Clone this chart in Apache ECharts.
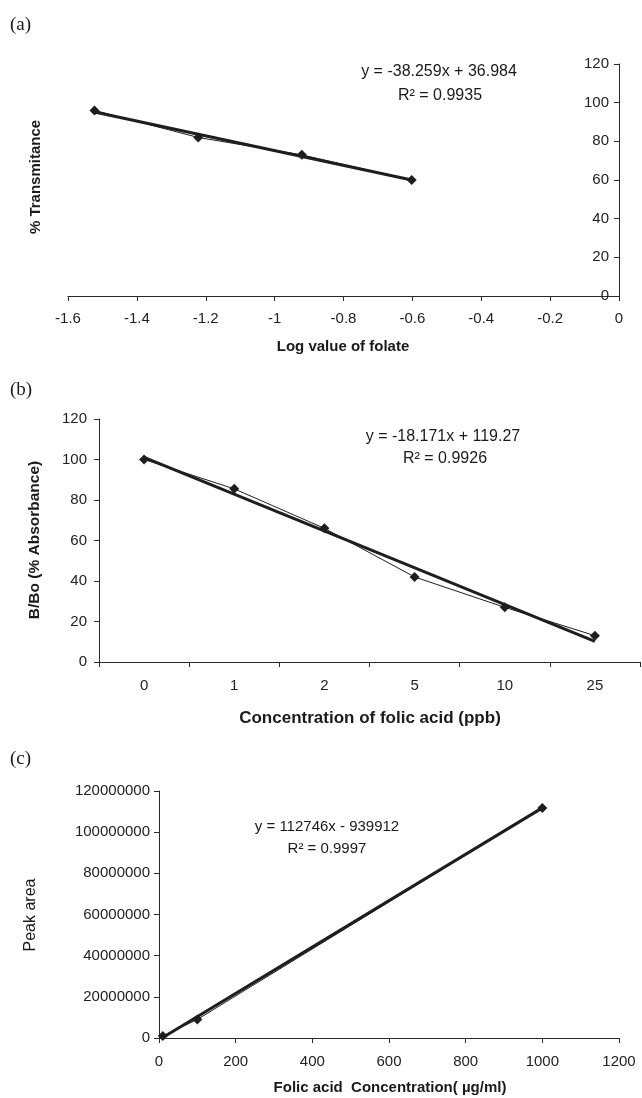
<!DOCTYPE html>
<html>
<head>
<meta charset="utf-8">
<script src="https://cdn.jsdelivr.net/npm/echarts@6/dist/echarts.min.js"></script>
<style>
html,body{margin:0;padding:0;background:#fff;}
#chart{width:642px;height:1098px;}
</style>
</head>
<body>
<div id="chart"></div>
<script>
// ---- Panel (a) ----
const xA = [-1.523, -1.222, -0.921, -0.602];
const yA = [96, 82, 73, 60];
const trendAx = [-1.523, -0.602];
const trendAy = [95.2, 60.0];
// ---- Panel (b) ----
const catB = ['0', '1', '2', '5', '10', '25'];
const yB = [100, 85.5, 66, 42, 27, 13];
const trendB = [101.1, null, null, null, null, 10.2];
// ---- Panel (c) ----
const xC = [10, 100, 1000];
const yC = [1.0e6, 9.0e6, 111.8e6];
const trendCx = [10, 1000];
const trendCy = [0.2e6, 111.8e6];

const FONT = '"Liberation Sans", Arial, sans-serif';
const INK = '#1e1e1e';
const AX = '#2a2a2a';

const pairs = (xs, ys) => xs.map((x, i) => [x, ys[i]]);
const plain = v => String(v);

function axisBase(extra) {
  return Object.assign({
    axisLine: {show: true, lineStyle: {color: AX, width: 1}},
    axisTick: {show: true, length: 5, lineStyle: {color: AX, width: 1}},
    splitLine: {show: false},
    axisLabel: {color: '#222', fontSize: 15, fontFamily: FONT}
  }, extra);
}

const chart = echarts.init(document.getElementById('chart'), null, {renderer: 'canvas'});

function txt(text, x, y, opt) {
  opt = opt || {};
  return {
    type: 'text', x: x, y: y, rotation: opt.rot || 0, z: 10,
    style: {
      text: text, fill: '#1a1a1a',
      fontSize: opt.size || 16, fontWeight: opt.bold ? 'bold' : 'normal',
      fontFamily: opt.family || FONT,
      align: opt.align || 'center', verticalAlign: 'middle'
    }
  };
}

const option = {
  backgroundColor: '#fff',
  animation: false,
  grid: [
    {left: 68, top: 64, width: 551, height: 232},
    {left: 99, top: 419, width: 541, height: 243},
    {left: 159, top: 791, width: 460, height: 247}
  ],
  xAxis: [
    axisBase({type: 'value', gridIndex: 0, min: -1.6, max: 0, interval: 0.2,
      axisLabel: {color: '#222', fontSize: 15, fontFamily: FONT, margin: 15, formatter: plain}}),
    axisBase({type: 'category', gridIndex: 1, data: catB, boundaryGap: true,
      axisTick: {show: true, length: 5, alignWithLabel: false, lineStyle: {color: AX}},
      axisLabel: {color: '#222', fontSize: 15, fontFamily: FONT, margin: 16}}),
    axisBase({type: 'value', gridIndex: 2, min: 0, max: 1200, interval: 200,
      axisLabel: {color: '#222', fontSize: 15, fontFamily: FONT, margin: 16, formatter: plain}})
  ],
  yAxis: [
    axisBase({type: 'value', gridIndex: 0, position: 'right', min: 0, max: 120, interval: 20,
      axisTick: {show: true, inside: true, length: 5, lineStyle: {color: AX}},
      axisLabel: {inside: true, color: '#222', fontSize: 15, fontFamily: FONT, margin: 10, formatter: plain}}),
    axisBase({type: 'value', gridIndex: 1, min: 0, max: 120, interval: 20,
      axisLabel: {color: '#222', fontSize: 15, fontFamily: FONT, margin: 12, formatter: plain}}),
    axisBase({type: 'value', gridIndex: 2, min: 0, max: 120000000, interval: 20000000,
      axisLabel: {color: '#222', fontSize: 15, fontFamily: FONT, margin: 9, formatter: plain}})
  ],
  series: [
    // (a)
    {type: 'line', xAxisIndex: 0, yAxisIndex: 0, data: pairs(trendAx, trendAy),
      showSymbol: false, lineStyle: {color: INK, width: 3}, z: 2, silent: true},
    {type: 'line', xAxisIndex: 0, yAxisIndex: 0, data: pairs(xA, yA),
      symbol: 'diamond', symbolSize: 10, itemStyle: {color: INK},
      lineStyle: {color: INK, width: 1}, z: 3},
    // (b)
    {type: 'line', xAxisIndex: 1, yAxisIndex: 1, data: trendB, connectNulls: true,
      showSymbol: false, lineStyle: {color: INK, width: 3}, z: 2, silent: true},
    {type: 'line', xAxisIndex: 1, yAxisIndex: 1, data: yB,
      symbol: 'diamond', symbolSize: 10, itemStyle: {color: INK},
      lineStyle: {color: INK, width: 1}, z: 3},
    // (c)
    {type: 'line', xAxisIndex: 2, yAxisIndex: 2, data: pairs(trendCx, trendCy),
      showSymbol: false, lineStyle: {color: INK, width: 3}, z: 2, silent: true},
    {type: 'line', xAxisIndex: 2, yAxisIndex: 2, data: pairs(xC, yC),
      symbol: 'diamond', symbolSize: 10, itemStyle: {color: INK},
      lineStyle: {color: INK, width: 1}, z: 3}
  ],
  graphic: [
    txt('(a)', 10, 25, {align: 'left', size: 19, family: '"Liberation Serif", serif'}),
    txt('(b)', 10, 390, {align: 'left', size: 19, family: '"Liberation Serif", serif'}),
    txt('(c)', 10, 759, {align: 'left', size: 19, family: '"Liberation Serif", serif'}),

    txt('y = -38.259x + 36.984', 439, 72, {size: 16}),
    txt('R² = 0.9935', 440, 96, {size: 16}),
    txt('% Transmitance', 36, 177, {bold: true, size: 15, rot: Math.PI / 2}),
    txt('Log value of folate', 343, 347, {bold: true, size: 15}),

    txt('y = -18.171x + 119.27', 443, 437, {size: 16}),
    txt('R² = 0.9926', 445, 459, {size: 16}),
    txt('B/Bo (% Absorbance)', 35, 540, {bold: true, size: 15.5, rot: Math.PI / 2}),
    txt('Concentration of folic acid (ppb)', 370, 718, {bold: true, size: 17}),

    txt('y = 112746x - 939912', 327, 827, {size: 15}),
    txt('R² = 0.9997', 327, 849, {size: 15}),
    txt('Peak area', 31, 915, {size: 16, rot: Math.PI / 2}),
    txt('Folic acid  Concentration( µg/ml)', 390, 1088, {bold: true, size: 15})
  ]
};
chart.setOption(option);
</script>
</body>
</html>
